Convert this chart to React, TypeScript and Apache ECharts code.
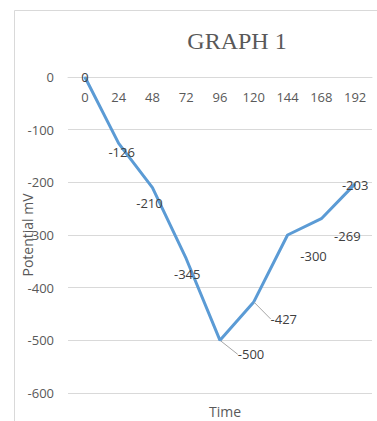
import React, { useEffect, useRef } from "react";
import * as echarts from "echarts";

const categories = ["0", "24", "48", "72", "96", "120", "144", "168", "192"];
const potentials = [0, -126, -210, -345, -500, -427, -300, -269, -203];
const yTicks = { min: -600, max: 0, interval: 100 };

const labelShift: [number, number][] = [
  [0, 0], [3, 9], [-3, 15], [1, 15], [31, 14], [30, 17], [26, 21], [26, 17], [0, 1],
];
const leaderIdx = [4, 5];

export default function App() {
  const ref = useRef<HTMLDivElement>(null);
  useEffect(() => {
    const chart = echarts.init(ref.current!, null, { renderer: "svg" });
    const font = "'Open Sans', 'Liberation Sans', sans-serif";
    chart.setOption({
      animation: false,
      backgroundColor: "#ffffff",
      title: [
        {
          text: "GRAPH 1",
          left: 232,
          top: 24,
          textAlign: "center",
          textStyle: { fontFamily: "'Liberation Serif', serif", fontSize: 24, fontWeight: "normal", color: "#595959" },
        },
        {
          text: "Time",
          left: 220,
          top: 399,
          textAlign: "center",
          textStyle: { fontFamily: font, fontSize: 14, fontWeight: "normal", color: "#595959" },
        },
      ],
      graphic: [
        {
          type: "rect",
          shape: { x: 14.5, y: 10.5, width: 420, height: 450 },
          style: { fill: "none", stroke: "#d9d9d9", lineWidth: 1 },
          silent: true,
        },
      ],
      grid: { left: 68, right: 5, top: 77, bottom: 28, outerBoundsMode: "none", containLabel: false },
      xAxis: {
        type: "category",
        data: categories,
        position: "top",
        boundaryGap: true,
        axisLine: { show: true, lineStyle: { color: "#d9d9d9" } },
        axisTick: { show: false },
        axisLabel: { inside: true, margin: 13, color: "#595959", fontSize: 13, fontFamily: font },
      },
      yAxis: {
        type: "value",
        min: yTicks.min,
        max: yTicks.max,
        interval: yTicks.interval,
        name: "Potential mV",
        nameLocation: "middle",
        nameGap: 34,
        nameMoveOverlap: false,
        nameTextStyle: { color: "#595959", fontSize: 14, fontFamily: font },
        axisLine: { show: false },
        axisTick: { show: false },
        axisLabel: { margin: 14, color: "#595959", fontSize: 13, fontFamily: font },
        splitLine: { lineStyle: { color: "#d9d9d9" } },
      },
      series: [
        {
          type: "line",
          data: potentials.map((v, i) => ({
            value: v,
            labelLine: leaderIdx.includes(i)
              ? { show: true, lineStyle: { color: "#a6a6a6", width: 1 } }
              : { show: false },
          })),
          showSymbol: true,
          symbol: "circle",
          symbolSize: 1,
          lineStyle: { color: "#5B9BD5", width: 3 },
          itemStyle: { color: "#5B9BD5" },
          label: {
            show: true,
            position: "inside",
            color: "#404040",
            fontSize: 13,
            fontFamily: font,
          },
          labelLayout: (p: any) => {
            const s = labelShift[p.dataIndex] || [0, 0];
            return { dx: s[0], dy: s[1] };
          },
        },
      ],
    });
    return () => chart.dispose();
  }, []);
  return (
    <div
      ref={ref}
      style={{ position: "fixed", left: 0, top: 0, width: 377, height: 421 }}
    />
  );
}
